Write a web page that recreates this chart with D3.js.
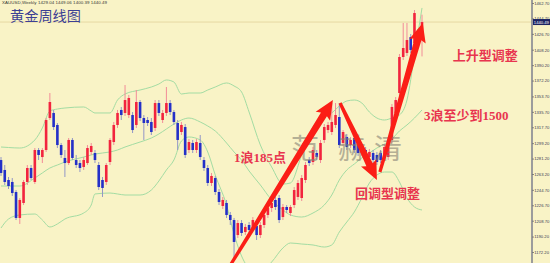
<!DOCTYPE html>
<html>
<head>
<meta charset="utf-8">
<script src="https://cdn.jsdelivr.net/npm/d3@7"></script>
<style>
html, body { margin: 0; padding: 0; background: #f9f3c6; overflow: hidden; }
svg { display: block; }
</style>
</head>
<body>
<svg id="chart"></svg>
<script>
// XAUUSD weekly candles, oldest first (prices)
const openP = [1279.5,1267.9,1256.2,1253.9,1242.2,1211.9,1229.4,1253.9,1270.2,1253.9,
  1291.2,1283.0,1291.2,1328.5,1334.4,1320.4,1297.0,1281.9,1276.0,1302.9,
  1279.5,1276.0,1271.4,1276.0,1288.9,1287.7,1273.7,1256.2,1253.9,1277.2,
  1300.5,1320.4,1337.9,1334.4,1332.0,1332.0,1320.4,1347.2,1328.5,1326.2,
  1323.9,1316.9,1346.0,1326.2,1334.4,1346.0,1335.5,1322.7,1312.2,1318.0,
  1291.2,1299.4,1291.2,1299.4,1279.5,1270.2,1252.7,1258.5,1242.2,1225.9,
  1229.4,1215.4,1209.5,1192.0,1206.0,1195.5,1203.7,1200.2,1202.5,1192.0,
  1203.7,1215.4,1223.5,1232.9,1235.2,1213.0,1224.7,1217.7,1227.0,1236.4,
  1235.2,1256.2,1279.5,1277.2,1287.7,1279.5,1302.9,1314.5,1312.2,1320.4,
  1329.7,1299.4,1306.4,1297.0,1305.2,1299.4,1287.7,1291.2,1283.0,1287.7,
  1285.4,1287.7,1281.9,1283.0,1302.9,1334.4,1357.7,1399.7,1404.4,1423.0,
  1416.0,1428.9,1429.04];
const highP = [1283.0,1273.7,1259.7,1258.5,1244.5,1235.2,1256.2,1273.7,1273.7,1293.5,
  1293.5,1293.5,1328.5,1357.7,1337.9,1322.7,1299.4,1291.2,1305.2,1305.2,
  1285.4,1279.5,1283.0,1297.0,1299.4,1291.2,1277.2,1259.7,1276.0,1305.2,
  1323.9,1337.9,1341.4,1367.0,1355.4,1335.5,1361.2,1349.5,1332.0,1329.7,
  1328.5,1349.5,1349.5,1337.9,1364.7,1349.5,1337.9,1326.2,1323.9,1321.5,
  1304.0,1302.9,1304.0,1308.7,1283.0,1273.7,1264.4,1260.9,1245.7,1236.4,
  1232.9,1218.9,1211.9,1209.5,1209.5,1204.9,1207.2,1213.0,1206.0,1207.2,
  1218.9,1227.0,1232.9,1236.4,1238.7,1228.2,1227.0,1227.0,1248.0,1256.2,
  1262.0,1277.2,1283.0,1294.7,1291.2,1302.9,1321.5,1323.9,1346.0,1346.0,
  1346.0,1314.5,1309.9,1306.4,1308.7,1302.9,1298.2,1294.7,1292.4,1291.2,
  1288.9,1291.2,1298.2,1302.9,1344.9,1353.0,1403.2,1439.4,1439.4,1426.5,
  1454.5,1432.4,1449.06];
const lowP = [1260.9,1250.4,1245.7,1237.5,1209.5,1204.9,1227.0,1250.4,1256.2,1251.5,
  1279.5,1276.0,1288.9,1326.2,1314.5,1293.5,1281.9,1259.7,1273.7,1279.5,
  1270.2,1265.5,1267.9,1273.7,1285.4,1276.0,1244.5,1236.4,1250.4,1273.7,
  1297.0,1316.9,1326.2,1330.9,1328.5,1311.0,1316.9,1325.0,1302.9,1319.2,
  1308.7,1313.4,1330.9,1322.7,1330.9,1332.0,1320.4,1291.2,1308.7,1281.9,
  1287.7,1287.7,1287.7,1279.5,1266.7,1249.2,1249.2,1238.7,1227.0,1222.4,
  1211.9,1203.7,1162.9,1188.5,1190.9,1192.0,1194.4,1196.7,1186.2,1188.5,
  1200.2,1211.9,1218.9,1221.2,1206.0,1209.5,1217.7,1214.2,1223.5,1232.9,
  1231.7,1252.7,1272.5,1273.7,1279.5,1276.0,1299.4,1311.0,1308.7,1316.9,
  1293.5,1295.9,1291.2,1293.5,1287.7,1284.2,1284.2,1279.5,1279.5,1276.0,
  1273.7,1276.0,1278.4,1279.5,1299.4,1330.9,1354.2,1396.2,1400.9,1404.4,
  1412.5,1419.5,1400.39];
const closeP = [1264.4,1253.9,1249.2,1241.0,1211.9,1232.9,1253.9,1270.2,1258.5,1291.2,
  1285.4,1291.2,1326.2,1347.2,1318.0,1297.0,1285.4,1276.0,1302.9,1281.9,
  1273.7,1270.2,1279.5,1293.5,1295.9,1279.5,1248.0,1246.9,1273.7,1302.9,
  1320.4,1334.4,1332.0,1349.5,1351.9,1314.5,1347.2,1328.5,1322.7,1322.7,
  1312.2,1346.0,1334.4,1334.4,1346.0,1335.5,1323.9,1302.9,1320.4,1285.4,
  1300.5,1291.2,1300.5,1283.0,1270.2,1252.7,1260.9,1242.2,1230.5,1232.9,
  1215.4,1209.5,1183.9,1206.0,1194.4,1201.4,1197.9,1209.5,1192.0,1203.7,
  1215.4,1223.5,1229.4,1224.7,1209.5,1224.7,1221.2,1224.7,1244.5,1252.7,
  1258.5,1273.7,1276.0,1291.2,1283.0,1299.4,1318.0,1320.4,1323.9,1332.0,
  1297.0,1312.2,1294.7,1302.9,1291.2,1287.7,1294.7,1283.0,1288.9,1279.5,
  1277.2,1279.5,1294.7,1299.4,1341.4,1349.5,1399.7,1410.2,1419.5,1407.9,
  1451.0,1423.0,1440.49];

// bollinger bands, sampled at these candle indices
const bandIdx = [0,2,5,9,11,13,15,17,22,24,25,29,31,33,37,40,42,44,46,48,
  50,53,55,57,60,62,64,66,69,72,75,77,80,83,86,88,90,92,94,96,
  98,100,102,104,106,108,110,112];
const bandUpper = [1294.7,1294.1,1293.5,1302.9,1316.9,1336.7,1339.0,1340.2,1341.4,1336.7,
  1334.4,1334.4,1349.5,1356.5,1361.2,1364.7,1368.2,1372.9,1370.5,1356.5,
  1357.7,1357.7,1361.2,1364.7,1369.4,1365.9,1358.9,1335.5,1297.0,1271.4,
  1251.5,1252.7,1285.4,1318.0,1329.7,1334.4,1342.5,1348.4,1349.5,1346.0,
  1335.5,1328.5,1326.2,1328.5,1332.0,1349.5,1402.0,1456.9];
const bandMiddle = [1249.2,1249.2,1249.2,1258.5,1264.4,1270.2,1273.7,1277.2,1283.0,1285.4,
  1286.5,1288.9,1291.2,1294.7,1300.5,1305.2,1309.9,1315.7,1321.5,1326.2,
  1328.5,1323.9,1319.2,1313.4,1299.4,1288.9,1279.5,1266.7,1250.4,1232.9,
  1221.2,1215.4,1213.0,1217.7,1227.0,1238.7,1256.2,1267.9,1274.9,1281.9,
  1287.7,1293.5,1298.2,1304.0,1313.4,1320.4,1328.5,1337.9];
const bandLower = [1200.2,1210.7,1215.4,1216.5,1209.5,1201.4,1204.9,1210.7,1217.7,1227.0,
  1239.9,1241.0,1239.9,1238.7,1238.7,1244.5,1255.0,1267.9,1279.5,1301.7,
  1306.4,1302.9,1288.9,1262.0,1227.0,1193.2,1167.5,1153.5,1148.9,1160.5,
  1176.9,1182.7,1181.5,1180.4,1178.0,1180.4,1195.5,1207.2,1218.9,1235.2,
  1252.7,1262.0,1265.5,1265.5,1253.9,1235.2,1224.7,1221.2];

const yTicks = [1462.70,1444.70,1426.70,1408.20,1390.20,1372.20,1353.70,1335.70,1317.70,
  1299.20,1281.20,1263.20,1244.70,1226.70,1208.70,1190.20,1172.20];

// wave arrows: [candle index, price] start and end
const arrowFrom = [[61.2, 1158.2], [90.2, 1346.0], [100.8, 1265.5]];
const arrowTo = [[88.3, 1349.5], [100.0, 1256.2], [112.2, 1439.4]];

const noteText = ["1浪185点", "回调型调整", "3浪至少到1500", "上升型调整"];
const noteIdx = [68.9, 102.8, 123.8, 128.8];
const notePrice = [1281.9, 1239.9, 1330.9, 1400.9];

const watermark = ["范", "赫", "清"];

const svgWidth = 550, svgHeight = 263, axisX = 531;

const svg = d3.select("#chart")
  .attr("width", svgWidth)
  .attr("height", svgHeight);

svg.append("rect")
  .attr("width", svgWidth).attr("height", svgHeight)
  .attr("fill", "#f9f3c6");

const xScale = d3.scaleLinear().domain([0, openP.length - 1]).range([1, 422]);
const yScale = d3.scaleLinear().domain([1172.2, 1462.7]).range([252, 3]);

const plot = svg.append("g");

// current price line
const lastClose = closeP[closeP.length - 1];
plot.append("line")
  .attr("x1", 0).attr("x2", axisX)
  .attr("y1", yScale(lastClose)).attr("y2", yScale(lastClose))
  .attr("stroke", "#e6d8a4").attr("stroke-width", 1);

// bands
const bandLine = d3.line()
  .x(function(d, i) { return xScale(bandIdx[i]); })
  .y(function(d) { return yScale(d); })
  .curve(d3.curveMonotoneX);

[bandUpper, bandMiddle, bandLower].forEach(function(band) {
  plot.append("path")
    .datum(band)
    .attr("d", bandLine)
    .attr("fill", "none")
    .attr("stroke", "#a3dca3")
    .attr("stroke-width", 1);
});

// candles
const candles = d3.range(openP.length).map(function(i) {
  return { i: i, o: openP[i], h: highP[i], l: lowP[i], c: closeP[i] };
});
const bodyW = 2.6;

const cg = plot.selectAll("g.candle").data(candles).enter().append("g").attr("class", "candle");

cg.append("line")
  .attr("x1", function(d) { return xScale(d.i); })
  .attr("x2", function(d) { return xScale(d.i); })
  .attr("y1", function(d) { return yScale(d.h); })
  .attr("y2", function(d) { return yScale(d.l); })
  .attr("stroke", function(d) { return d.c >= d.o ? "#f28c98" : "#9296c6"; })
  .attr("stroke-width", 1);

cg.append("rect")
  .attr("x", function(d) { return xScale(d.i) - bodyW / 2; })
  .attr("y", function(d) { return yScale(Math.max(d.o, d.c)); })
  .attr("width", bodyW)
  .attr("height", function(d) { return Math.max(1, Math.abs(yScale(d.o) - yScale(d.c))); })
  .attr("fill", function(d) { return d.c >= d.o ? "#f2243e" : "#2430c8"; });

// watermark
svg.append("g").selectAll("text").data(watermark).enter().append("text")
  .attr("x", function(d, i) { return [305, 352, 388][i]; })
  .attr("y", 159)
  .attr("text-anchor", "middle")
  .attr("font-family", "Noto Sans CJK SC")
  .attr("font-weight", 400)
  .attr("font-size", 28)
  .attr("fill", "#878276")
  .attr("opacity", 0.6)
  .text(function(d) { return d; });

// arrows
function arrowPath(x1, y1, x2, y2) {
  const dx = x2 - x1, dy = y2 - y1, len = Math.hypot(dx, dy);
  const ux = dx / len, uy = dy / len, nx = -uy, ny = ux;
  const headLen = 17, headW = 8.5, neck = 3.5, tail = 1.6;
  const bx = x2 - ux * headLen, by = y2 - uy * headLen;
  const pts = [
    [x1 + nx * tail, y1 + ny * tail],
    [bx + nx * neck, by + ny * neck],
    [bx + nx * headW - ux * 2, by + ny * headW - uy * 2],
    [x2, y2],
    [bx - nx * headW - ux * 2, by - ny * headW - uy * 2],
    [bx - nx * neck, by - ny * neck],
    [x1 - nx * tail, y1 - ny * tail]
  ];
  return d3.line()(pts) + "Z";
}

svg.append("g").selectAll("path").data(arrowFrom).enter().append("path")
  .attr("d", function(d, i) {
    return arrowPath(xScale(d[0]), yScale(d[1]), xScale(arrowTo[i][0]), yScale(arrowTo[i][1]));
  })
  .attr("fill", "#fb1e16");

// notes
svg.append("g").selectAll("text").data(noteText).enter().append("text")
  .attr("x", function(d, i) { return xScale(noteIdx[i]); })
  .attr("y", function(d, i) { return yScale(notePrice[i]); })
  .attr("text-anchor", "middle")
  .attr("dominant-baseline", "central")
  .attr("font-family", "'Liberation Serif', 'Noto Sans CJK SC'")
  .attr("font-weight", "bold")
  .attr("font-size", 13)
  .attr("fill", "#e8354f")
  .text(function(d) { return d; });

// header + title
svg.append("text")
  .attr("x", 2).attr("y", 3.8)
  .attr("font-family", "'Liberation Sans', Arial")
  .attr("font-size", 4.4)
  .attr("fill", "#333")
  .attr("textLength", 105)
  .text("XAUUSD,Weekly  1429.04 1449.06 1400.39 1440.49");

svg.append("text")
  .attr("x", 10).attr("y", 20.5)
  .attr("font-family", "'Noto Sans CJK SC'")
  .attr("font-size", 14.2)
  .attr("fill", "#3c3f94")
  .text("黄金周线图");

// price axis
svg.append("rect")
  .attr("x", axisX).attr("y", 0)
  .attr("width", 2).attr("height", svgHeight)
  .attr("fill", "#9c9c9c");

const yAxis = d3.axisRight(yScale)
  .tickValues(yTicks)
  .tickSize(1.2)
  .tickPadding(0.5)
  .tickFormat(d3.format(".2f"));

const axisG = svg.append("g")
  .attr("transform", "translate(" + (axisX + 1.5) + ",0)")
  .call(yAxis)
  .attr("font-size", 4.2)
  .attr("font-family", "'Liberation Sans', Arial");
axisG.select(".domain").remove();
axisG.selectAll("line").attr("stroke", "#555");
axisG.selectAll("text").attr("fill", "#3a3a55");

// current price box
const boxY = yScale(lastClose);
svg.append("rect")
  .attr("x", axisX + 2).attr("y", boxY - 3)
  .attr("width", 17).attr("height", 6)
  .attr("fill", "#1d2462");
svg.append("text")
  .attr("x", axisX + 2.8).attr("y", boxY)
  .attr("dominant-baseline", "central")
  .attr("font-family", "'Liberation Sans', Arial")
  .attr("font-size", 4.2)
  .attr("fill", "#fff")
  .text(d3.format(".2f")(lastClose));
</script>
</body>
</html>
